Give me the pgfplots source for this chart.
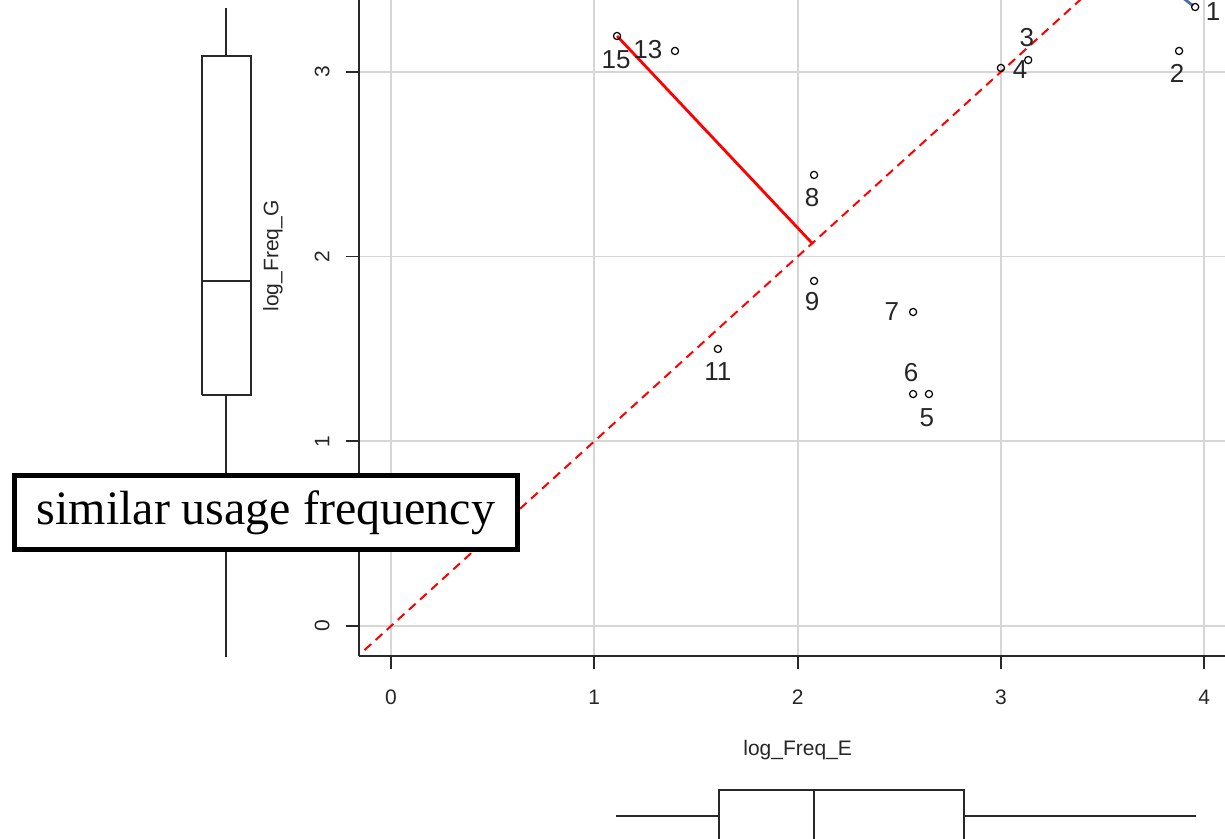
\documentclass[border=0pt]{standalone}
\usepackage{pgfplots}
\pgfplotsset{compat=1.18}
\usepackage{fontspec}
\setmainfont{Liberation Sans}
\newfontfamily\boxfont{Liberation Serif}
\definecolor{gridgray}{RGB}{214,214,214}
\definecolor{axisgray}{RGB}{40,40,40}
\definecolor{bluel}{RGB}{70,110,170}
\tikzset{bp/.style={axisgray, line width=0.8pt, mark=none}}
\newcommand{\tl}{\fontsize{10.5}{10.5}\selectfont}
\begin{document}
\begin{tikzpicture}
% main scatter axis
\begin{axis}[name=main, at={(179.5pt,91.5pt)}, anchor=south west,
  scale only axis, width=433pt, height=328pt,
  xmin=-0.157, xmax=4.102, ymin=-0.162, ymax=3.389,
  axis x line*=bottom, axis y line*=left,
  xtick={0,1,2,3,4}, ytick={0,1,2,3},
  xticklabels={,,,,}, yticklabels={,,,},
  tick align=outside, major tick length=6.5pt,
  major tick style={axisgray, line width=0.9pt},
  axis line style={axisgray, line width=0.9pt},
  grid=major, major grid style={gridgray, line width=0.9pt},
  clip mode=individual]
\addplot[red, line width=1pt, dash pattern=on 4.5pt off 3pt] coordinates {(-0.13,-0.13) (4.2,4.2)};
\addplot[red, line width=1.4pt] coordinates {(1.112,3.194) (2.075,2.068)};
\addplot[bluel, line width=1.4pt] coordinates {(3.945,3.357) (3.805,3.479)};
\addplot[only marks, mark=o, mark size=1.8pt, mark options={line width=0.6pt, black}] table {
x y
3.955 3.351
3.876 3.113
3.134 3.064
3.000 3.021
2.646 1.256
2.568 1.256
2.568 1.700
2.081 2.442
2.081 1.868
1.608 1.500
1.397 3.113
1.112 3.194
};
\addplot[draw=none, mark=none, nodes near coords, point meta=explicit symbolic,
  nodes near coords style={anchor=center, inner sep=0pt, font=\fontsize{13}{13}\selectfont, text=black!85}] table[meta=lab] {
x y lab
4.043 3.324 1
3.866 2.994 2
3.128 3.184 3
3.094 3.010 4
2.636 1.126 5
2.558 1.370 6
2.464 1.705 7
2.071 2.317 8
2.071 1.754 9
1.608 1.375 11
1.264 3.119 13
1.107 3.064 15
};
\end{axis}
% overlay axis with margins, boxplots and labels
\begin{axis}[name=ov, at={(0pt,0pt)}, anchor=south west,
  scale only axis, width=612.5pt, height=419.5pt,
  xmin=-1.923, xmax=4.102, ymin=-1.153, ymax=3.389,
  hide axis, clip mode=individual]
% left boxplot (log_Freq_G)
\addplot[bp] coordinates {(-0.930,1.251) (-0.689,1.251) (-0.689,3.086) (-0.930,3.086) (-0.930,1.251)};
\addplot[bp] coordinates {(-0.930,1.868) (-0.689,1.868)};
\addplot[bp] coordinates {(-0.812,3.086) (-0.812,3.346)};
\addplot[bp] coordinates {(-0.812,1.251) (-0.812,-0.168)};
% bottom boxplot (log_Freq_E)
\addplot[bp] coordinates {(1.613,-1.3) (1.613,-0.888) (2.818,-0.888) (2.818,-1.3)};
\addplot[bp] coordinates {(2.081,-0.888) (2.081,-1.3)};
\addplot[bp] coordinates {(1.107,-1.029) (1.613,-1.029)};
\addplot[bp] coordinates {(2.818,-1.029) (3.960,-1.029)};
% tick labels
\node[font=\tl, text=black!85] at (axis cs:0,-0.384) {0};
\node[font=\tl, text=black!85] at (axis cs:1,-0.384) {1};
\node[font=\tl, text=black!85] at (axis cs:2,-0.384) {2};
\node[font=\tl, text=black!85] at (axis cs:3,-0.384) {3};
\node[font=\tl, text=black!85] at (axis cs:4,-0.384) {4};
\node[font=\tl, text=black!85, rotate=90] at (axis cs:-0.339,0) {0};
\node[font=\tl, text=black!85, rotate=90] at (axis cs:-0.339,1) {1};
\node[font=\tl, text=black!85, rotate=90] at (axis cs:-0.339,2) {2};
\node[font=\tl, text=black!85, rotate=90] at (axis cs:-0.339,3) {3};
% axis labels
\node[font=\tl, text=black!85] at (axis cs:2.0,-0.671) {log\_Freq\_E};
\node[font=\tl, text=black!85, rotate=90] at (axis cs:-0.580,2.003) {log\_Freq\_G};
% annotation box
\node[draw=black, line width=2.5pt, fill=white, minimum width=251.5pt, minimum height=37pt, inner sep=0pt,
  font=\boxfont\fontsize{24}{24}\selectfont] at (axis cs:-0.615,0.6145) {similar usage frequency};
\coordinate (BL) at (axis cs:-1.923,-1.153);
\coordinate (TR) at (axis cs:4.102,3.389);
\end{axis}
\pgfresetboundingbox
\path[use as bounding box] (BL) rectangle (TR);
\end{tikzpicture}
\end{document}
